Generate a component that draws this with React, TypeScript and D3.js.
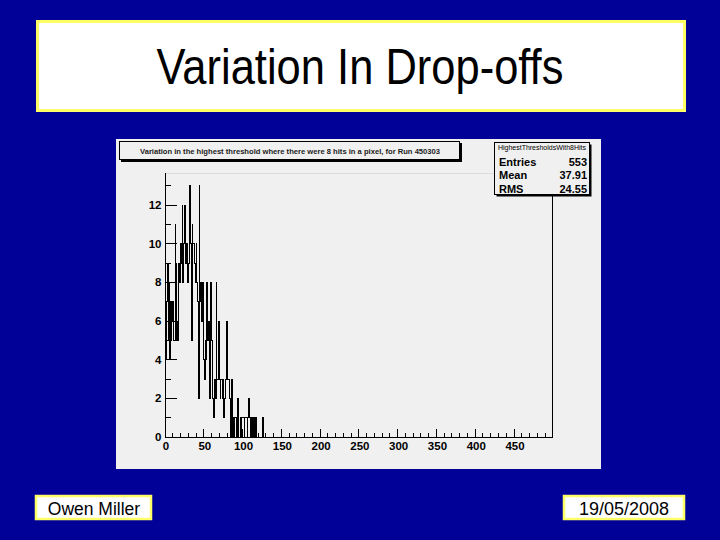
import React from "react";
import * as d3 from "d3";

// Histogram bin contents (bin width 1, starting at 0); bins beyond are empty
const binCounts: number[] = [
  5, 4, 7, 9, 5, 8, 4, 7, 5, 6,
  7, 5, 5, 11, 9, 5, 6, 5, 9, 8,
  10, 9, 12, 8, 10, 12, 9, 9, 10, 8,
  9, 13, 13, 10, 5, 11, 10, 10, 9, 8,
  10, 8, 7, 2, 13, 7, 8, 6, 8, 7,
  4, 3, 5, 4, 8, 5, 6, 5, 2, 8,
  5, 2, 1, 1, 3, 2, 8, 3, 3, 6,
  3, 2, 3, 3, 2, 3, 1, 2, 3, 6,
  6, 3, 3, 2, 2, 0, 3, 0, 1, 0,
  1, 1, 0, 0, 2, 0, 0, 1, 0, 1,
  1, 1, 0, 1, 1, 1, 0, 1, 2, 1,
  0, 1, 1, 0, 1, 0, 0, 1, 0, 0,
  0, 0, 0, 0, 0, 0, 1, 0,
];

const xMajorTicks = [0, 50, 100, 150, 200, 250, 300, 350, 400, 450];
const yMajorTicks = [0, 2, 4, 6, 8, 10, 12];
const statsLabels = ["Entries", "Mean", "RMS"];
const statsValues = ["553", "37.91", "24.55"];
const slideTitle = "Variation In Drop-offs";
const histTitle =
  "Variation in the highest threshold where there were 8 hits in a pixel, for Run 450303";
const statsName = "HighestThresholdsWith8Hits";
const author = "Owen Miller";
const dateText = "19/05/2008";

const FONT = "'Liberation Sans', Arial, Helvetica, sans-serif";

export default function App() {
  const x = d3.scaleLinear().domain([0, 500]).range([165, 552.8]);
  const y = d3.scaleLinear().domain([0, 13.65]).range([437, 173.1]);

  const pts: [number, number][] = [[0, 0]];
  binCounts.forEach((v, i) => pts.push([i, v]));
  pts.push([binCounts.length, 0]);
  pts.push([500, 0]);
  const line = d3
    .line<[number, number]>()
    .x((d) => x(d[0]))
    .y((d) => y(d[1]))
    .curve(d3.curveStepAfter);

  const xMinor = d3.range(0, 500, 10).filter((v) => v % 50 !== 0);
  const yMinor = d3.range(1, 14, 2);

  const blue = "#010198";
  const yellow = "#ffff66";

  return (
    <div style={{ position: "absolute", left: 0, top: 0 }}>
      <svg width={720} height={540} style={{ display: "block" }}>
        <rect x={0} y={0} width={720} height={540} fill={blue} />
        {/* Slide title box */}
        <rect x={37.5} y={21.5} width={647} height={89} fill="#ffffff" stroke={yellow} strokeWidth={3} />
        <text transform="translate(360,84) scale(1,1.15)" textAnchor="middle" fontFamily={FONT} fontSize={43.5}
          fill="#000">
          {slideTitle}
        </text>

        {/* ROOT canvas panel */}
        <rect x={116} y={139} width={485} height={330} fill="#f0f0f0" />

        {/* Histogram title pave */}
        <rect x={121} y={143} width={341} height={19} fill="#000" />
        <rect x={119.5} y={141.5} width={340} height={18} fill="#f0f0f0" stroke="#000" strokeWidth={1} />
        <text x={290} y={153.5} textAnchor="middle" fontFamily={FONT} fontSize={7} fontWeight="bold" fill="#222"
          textLength={300} lengthAdjust="spacingAndGlyphs">
          {histTitle}
        </text>

        {/* Frame */}
        <g shapeRendering="crispEdges">
          <line x1={x(0)} x2={x(500)} y1={y(13.65)} y2={y(13.65)} stroke="#dcdcdc" />
          <line x1={x(500)} x2={x(500)} y1={196} y2={y(0)} stroke="#000" />
          <line x1={x(0)} x2={x(0)} y1={y(13.65)} y2={y(0)} stroke="#000" />
          <line x1={x(0)} x2={x(500)} y1={y(0)} y2={y(0)} stroke="#000" />
          {yMajorTicks.map((t) => (
            <line key={"ym" + t} x1={x(0)} x2={x(0) + 12} y1={y(t)} y2={y(t)} stroke="#000" />
          ))}
          {yMinor.map((t) => (
            <line key={"yn" + t} x1={x(0)} x2={x(0) + 6} y1={y(t)} y2={y(t)} stroke="#000" />
          ))}
          {xMajorTicks.map((t) => (
            <line key={"xm" + t} x1={x(t)} x2={x(t)} y1={y(0)} y2={y(0) - 8} stroke="#000" />
          ))}
          {xMinor.map((t) => (
            <line key={"xn" + t} x1={x(t)} x2={x(t)} y1={y(0)} y2={y(0) - 4} stroke="#000" />
          ))}
          <path d={line(pts) || ""} fill="none" stroke="#000" strokeWidth={1} />
        </g>

        {yMajorTicks.map((t) => (
          <text key={"yl" + t} x={161.5} y={y(t) + 4} textAnchor="end" fontFamily={FONT} fontSize={11.5}
            fontWeight="bold" fill="#000">
            {t}
          </text>
        ))}
        {xMajorTicks.map((t) => (
          <text key={"xl" + t} x={x(t) + 1} y={449.5} textAnchor="middle" fontFamily={FONT} fontSize={11.5}
            fontWeight="bold" fill="#000">
            {t}
          </text>
        ))}

        {/* Stats box */}
        <rect x={496.5} y={144.5} width={95} height={52} fill="#000" />
        <rect x={494.5} y={142.5} width={95} height={52} fill="#f0f0f0" stroke="#000" strokeWidth={1} />
        <text x={542} y={150} textAnchor="middle" fontFamily={FONT} fontSize={6.5} fill="#000"
          textLength={88} lengthAdjust="spacingAndGlyphs">
          {statsName}
        </text>
        {statsLabels.map((lab, i) => (
          <g key={lab}>
            <text x={499} y={165.5 + i * 13.5} fontFamily={FONT} fontSize={11} fontWeight="bold" fill="#000">
              {lab}
            </text>
            <text x={587} y={165.5 + i * 13.5} textAnchor="end" fontFamily={FONT} fontSize={11} fontWeight="bold"
              fill="#000">
              {statsValues[i]}
            </text>
          </g>
        ))}

        {/* Footer boxes */}
        <rect x={36} y={496} width={115} height={23} fill="#ffffff" stroke={yellow} strokeWidth={2.5} />
        <text x={94} y={514.5} textAnchor="middle" fontFamily={FONT} fontSize={17.5} fill="#000">
          {author}
        </text>
        <rect x={564} y={496} width={120} height={23} fill="#ffffff" stroke={yellow} strokeWidth={2.5} />
        <text x={624} y={514.5} textAnchor="middle" fontFamily={FONT} fontSize={18} fill="#000">
          {dateText}
        </text>
      </svg>
    </div>
  );
}
